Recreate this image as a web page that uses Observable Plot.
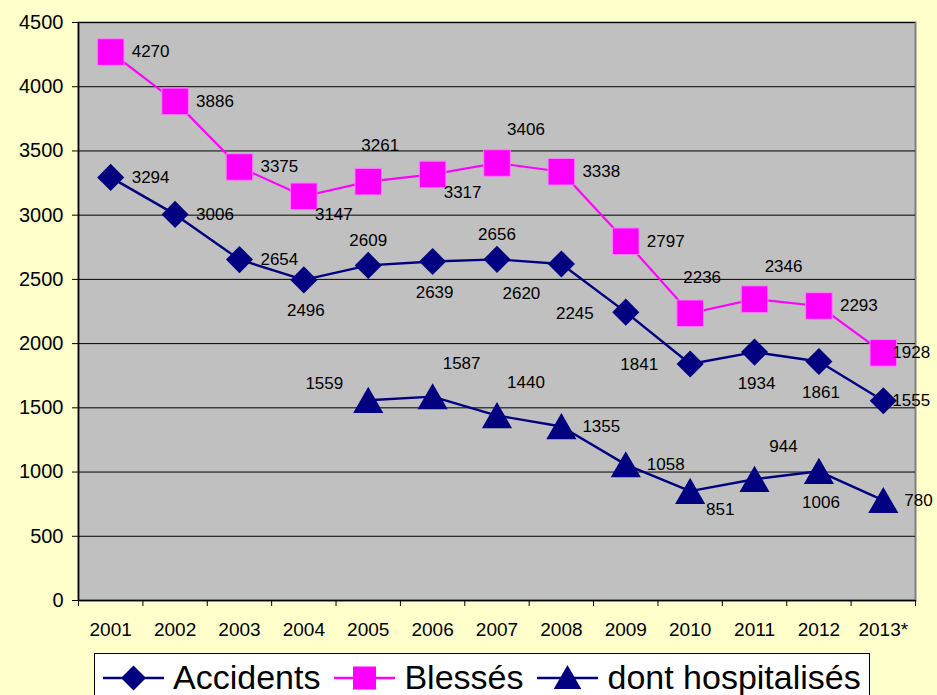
<!DOCTYPE html>
<html>
<head>
<meta charset="utf-8">
<script src="https://cdn.jsdelivr.net/npm/d3@7"></script>
<script src="https://cdn.jsdelivr.net/npm/@observablehq/plot@0.6"></script>
<style>
  html, body { margin: 0; padding: 0; background: #FFFFCC; }
  body { width: 937px; height: 695px; overflow: hidden; font-family: "Liberation Sans", Arial, sans-serif; }
  #chart svg { display: block; }
  #legend {
    margin-left: 94px; margin-top: 5px; width: 776px; height: 60px;
    border: 1px solid #000; background: #fff; box-sizing: border-box;
    display: flex; align-items: flex-start; padding-left: 8px; padding-top: 7px;
    font-size: 34px; line-height: 33px; color: #000; white-space: nowrap;
  }
  #legend .item { display: flex; align-items: center; margin-right: 14px; height: 33px; }
  #legend svg { display: block; margin-right: 9px; }
</style>
</head>
<body>
<div id="chart"></div>
<div id="legend"></div>
<script>
// ---- data ----
const years = ["2001","2002","2003","2004","2005","2006","2007","2008","2009","2010","2011","2012","2013*"];
const accidents = [3294, 3006, 2654, 2496, 2609, 2639, 2656, 2620, 2245, 1841, 1934, 1861, 1555];
const blesses = [4270, 3886, 3375, 3147, 3261, 3317, 3406, 3338, 2797, 2236, 2346, 2293, 1928];
const hospitalises = [null, null, null, null, 1559, 1587, 1440, 1355, 1058, 851, 944, 1006, 780];
const yTicks = [0, 500, 1000, 1500, 2000, 2500, 3000, 3500, 4000, 4500];
const seriesNames = ["Accidents", "Blessés", "dont hospitalisés"];

// label placement codes (where each data label sits relative to its point)
const accPlace = ["E","E","E","S","N","S","N","SW","W","W","S","S","e"];
const blePlace = ["E","E","E","SE","NNE","SE","NE","E","E","NNE","NE","E","e"];
const hosPlace = [null,null,null,null,"NW","NE","NE","E","E","SE","NE","S","E"];

const placements = {
  E:   {anchor: "start",  dx: 21,  dy: 0},
  e:   {anchor: "start",  dx: 9,   dy: 0},
  W:   {anchor: "end",    dx: -32, dy: 1},
  N:   {anchor: "middle", dx: 0,   dy: -25},
  S:   {anchor: "middle", dx: 2,   dy: 31},
  SW:  {anchor: "middle", dx: -40, dy: 30},
  SE:  {anchor: "middle", dx: 30,  dy: 18},
  NE:  {anchor: "middle", dx: 29,  dy: -33},
  NNE: {anchor: "middle", dx: 12,  dy: -36},
  NW:  {anchor: "end",    dx: -25, dy: -17}
};

const NAVY = "#000080", MAGENTA = "#FF00FF";
const FONT = "'Liberation Sans', Arial, sans-serif";

function rowsOf(values, places, series) {
  return values.map((v, i) => ({series, i, year: years[i], value: v, pos: places[i]}))
               .filter(d => d.value != null);
}
const accRows = rowsOf(accidents, accPlace, seriesNames[0]);
const bleRows = rowsOf(blesses, blePlace, seriesNames[1]);
const hosRows = rowsOf(hospitalises, hosPlace, seriesNames[2]);
const allRows = [...accRows, ...bleRows, ...hosRows];

const labelMarks = Object.entries(placements).map(([code, o]) =>
  Plot.text(allRows.filter(d => d.pos === code), {
    x: "i", y: "value", text: d => String(d.value),
    textAnchor: o.anchor, dx: o.dx, dy: o.dy,
    fill: "black", fontSize: 17
  })
);

const chart = Plot.plot({
  width: 937,
  height: 648,
  marginLeft: 78,
  marginRight: 22,
  marginTop: 22,
  marginBottom: 48,
  x: {type: "linear", domain: [-0.5, years.length - 0.5], label: null},
  y: {domain: [0, 4500], label: null},
  style: {background: "transparent", fontFamily: FONT, color: "black", overflow: "visible"},
  marks: [
    Plot.frame({fill: "#C0C0C0", stroke: "#808080", strokeWidth: 2}),
    Plot.gridY(yTicks, {stroke: "black", strokeOpacity: 1, strokeWidth: 1}),
    Plot.axisY(yTicks, {tickSize: 6, tickPadding: 9, fontSize: 20, tickFormat: d => String(d)}),
    Plot.axisX(d3.range(years.length), {tickSize: 0, tickPadding: 22, fontSize: 19, tickFormat: i => years[i]}),
    Plot.axisX(d3.range(-0.5, years.length, 1), {tickSize: 6, tickFormat: () => ""}),
    Plot.ruleX([-0.5], {stroke: "black", strokeWidth: 1.5}),
    Plot.ruleY([0], {stroke: "black", strokeWidth: 1.5}),
    Plot.line(bleRows, {x: "i", y: "value", stroke: MAGENTA, strokeWidth: 2.2}),
    Plot.line(accRows, {x: "i", y: "value", stroke: NAVY, strokeWidth: 2.4}),
    Plot.line(hosRows, {x: "i", y: "value", stroke: NAVY, strokeWidth: 2.4}),
    Plot.dot(bleRows, {x: "i", y: "value", symbol: "square", r: 15, fill: MAGENTA, stroke: "#FF7FFF", strokeWidth: 1}),
    Plot.dot(accRows, {x: "i", y: "value", symbol: "diamond2", r: 12.2, fill: NAVY, stroke: "none"}),
    Plot.dot(hosRows, {x: "i", y: "value", symbol: "triangle", r: 11.2, dy: 4, fill: NAVY, stroke: "none"}),
    ...labelMarks
  ]
});
document.getElementById("chart").appendChild(chart);

// ---- legend ----
const legendItems = [
  {name: seriesNames[0], color: NAVY, symbol: d3.symbolDiamond2, size: 400, dy: 0},
  {name: seriesNames[1], color: MAGENTA, symbol: d3.symbolSquare, size: 530, dy: 0},
  {name: seriesNames[2], color: NAVY, symbol: d3.symbolTriangle, size: 330, dy: 3}
];
const legend = d3.select("#legend");
legendItems.forEach(it => {
  const item = legend.append("div").attr("class", "item");
  const s = item.append("svg").attr("width", 61).attr("height", 30);
  s.append("line").attr("x1", 0).attr("x2", 61).attr("y1", 15).attr("y2", 15)
    .attr("stroke", it.color).attr("stroke-width", 2.4);
  s.append("path").attr("d", d3.symbol(it.symbol, it.size)())
    .attr("transform", `translate(30.5,${15 + it.dy})`).attr("fill", it.color);
  item.append("span").text(it.name);
});
</script>
</body>
</html>
